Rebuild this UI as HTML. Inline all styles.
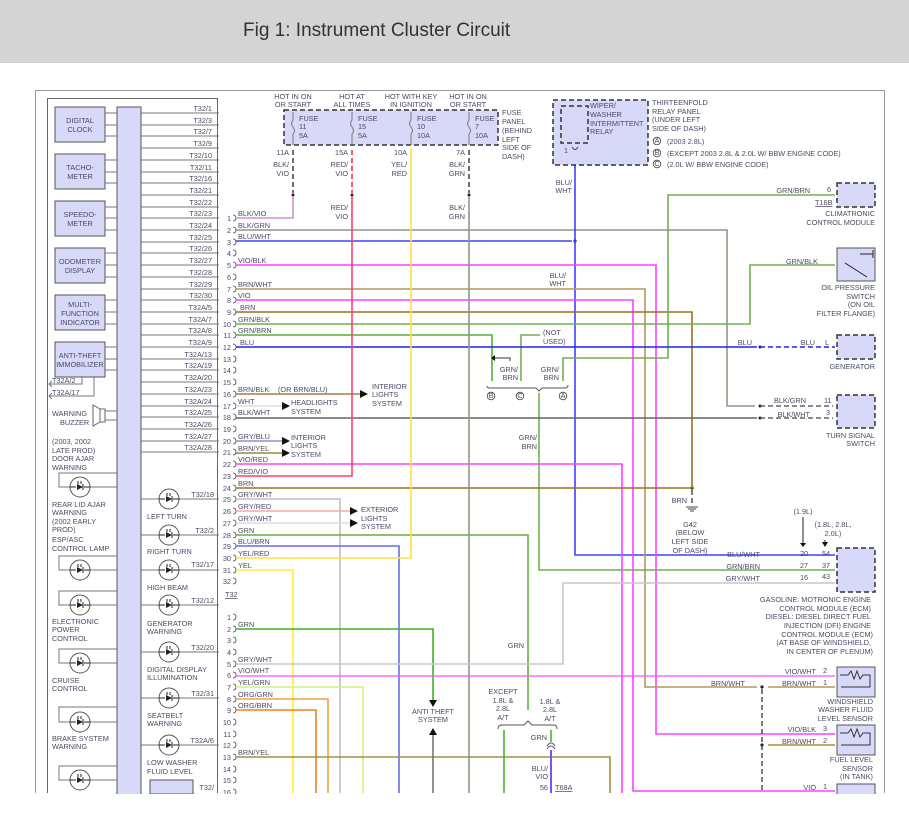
<!DOCTYPE html>
<html><head><meta charset="utf-8"><style>
html,body{margin:0;padding:0;background:#fff;width:909px;height:818px;overflow:hidden}
svg{display:block}
text{font-family:"Liberation Sans",sans-serif;font-size:7.3px;fill:#4a4a66}
.r{text-anchor:end}.m{text-anchor:middle}
.w{fill:none;stroke-width:1.6}
.g{stroke:#777;stroke-width:1;fill:none}
.box{fill:#d8d8f8;stroke:#555;stroke-width:1}
.dbox{fill:#d8d8f8;stroke:#333;stroke-width:1.5;stroke-dasharray:5 3}
</style></head><body>
<svg width="909" height="818" viewBox="0 0 909 818" xmlns="http://www.w3.org/2000/svg">
<defs>
<g id="lamp"><circle r="10" fill="#fff" stroke="#555"/><path d="M-3 -3L3 0L-3 3Z" fill="#222"/><path d="M3 -3V3M-2 -6V-3M1 -6V-3M-10 0H-4M4 0H10" stroke="#222" fill="none"/></g>
<path id="cb" d="M0 -3Q3 -3 3 0Q3 3 0 3" fill="none" stroke="#444" stroke-width=".8"/>
</defs>
<rect x="0" y="0" width="909" height="63" fill="#d4d4d4"/>
<text x="243" y="36" style="font-size:19px;fill:#333">Fig 1: Instrument Cluster Circuit</text>
<path d="M35.5 793 V90.5 H884.5 V793" fill="none" stroke="#999" stroke-width="1"/>
<path d="M47.5 793 V98.5 H217.5 V793" fill="none" stroke="#666" stroke-width="1"/>
<rect x="117" y="107" width="24" height="690" class="box"/>
<rect x="55" y="107" width="50" height="35" class="box"/><text x="80" y="123" class="m">DIGITAL</text><text x="80" y="132" class="m">CLOCK</text>
<rect x="55" y="154" width="50" height="35" class="box"/><text x="80" y="170" class="m">TACHO-</text><text x="80" y="179" class="m">METER</text>
<rect x="55" y="201" width="50" height="35" class="box"/><text x="80" y="217" class="m">SPEEDO-</text><text x="80" y="226" class="m">METER</text>
<rect x="55" y="248" width="50" height="35" class="box"/><text x="80" y="264" class="m">ODOMETER</text><text x="80" y="273" class="m">DISPLAY</text>
<rect x="55" y="295" width="50" height="35" class="box"/><text x="80" y="307" class="m">MULTI-</text><text x="80" y="316" class="m">FUNCTION</text><text x="80" y="325" class="m">INDICATOR</text>
<rect x="55" y="342" width="50" height="35" class="box"/><text x="80" y="358" class="m">ANTI-THEFT</text><text x="80" y="367" class="m">IMMOBILIZER</text>
<path class="g" d="M105 113H117M105 125H117M105 136H117M105 160H117M105 172H117M105 183H117M105 207H117M105 218H117M105 230H117M105 253H117M105 265H117M105 277H117M105 300H117M105 312H117M105 324H117M105 347H117M105 359H117M105 370H117"/>
<path class="g" d="M82 377V384H49M52 381L49 384L52 387M94 377V396H49M52 393L49 396L52 399"/>
<text x="52" y="383">T32A/2</text><text x="52" y="395">T32A/17</text>
<text x="52" y="416">WARNING</text><text x="60" y="425">BUZZER</text>
<path d="M100 409H105V422H100ZM100 409L93 405V426L100 422" fill="#fff" stroke="#666"/>
<path class="g" d="M105 411H117M105 420H117"/>
<g class="g">
<path d="M141 113H219M141 125H219M141 136H219M141 148H219M141 160H219M141 172H219M141 183H219M141 195H219M141 207H219M141 218H219M141 230H219M141 242H219M141 253H219M141 265H219M141 277H219M141 289H219M141 300H219M141 312H219M141 324H219M141 335H219M141 347H219M141 359H219M141 370H219M141 382H219M141 394H219M141 406H219M141 417H219M141 429H219M141 441H219M141 452H219"/>
</g>
<g class="r">
<text x="212" y="111">T32/1</text><text x="212" y="123">T32/3</text><text x="212" y="134">T32/7</text><text x="212" y="146">T32/9</text><text x="212" y="158">T32/10</text><text x="212" y="170">T32/11</text><text x="212" y="181">T32/16</text><text x="212" y="193">T32/21</text><text x="212" y="205">T32/22</text><text x="212" y="216">T32/23</text><text x="212" y="228">T32/24</text><text x="212" y="240">T32/25</text><text x="212" y="251">T32/26</text><text x="212" y="263">T32/27</text><text x="212" y="275">T32/28</text><text x="212" y="287">T32/29</text><text x="212" y="298">T32/30</text><text x="212" y="310">T32A/5</text><text x="212" y="322">T32A/7</text><text x="212" y="333">T32A/8</text><text x="212" y="345">T32A/9</text><text x="212" y="357">T32A/13</text><text x="212" y="368">T32A/19</text><text x="212" y="380">T32A/20</text><text x="212" y="392">T32A/23</text><text x="212" y="404">T32A/24</text><text x="212" y="415">T32A/25</text><text x="212" y="427">T32A/26</text><text x="212" y="439">T32A/27</text><text x="212" y="450">T32A/28</text>
</g>
<g class="g">
<path d="M117 473H59V487H117M117 556H59V570H117M117 591H59V605H117M117 649H59V663H117M117 707H59V722H117M117 766H59V780H117"/>
<path d="M141 499H219M141 535H219M141 570H219M141 605H219M141 652H219M141 698H219M141 745H219"/>
</g>
<use href="#lamp" x="80" y="487"/><use href="#lamp" x="80" y="570"/><use href="#lamp" x="80" y="605"/><use href="#lamp" x="80" y="663"/><use href="#lamp" x="80" y="722"/><use href="#lamp" x="80" y="780"/>
<use href="#lamp" x="169" y="499"/><use href="#lamp" x="169" y="535"/><use href="#lamp" x="169" y="570"/><use href="#lamp" x="169" y="605"/><use href="#lamp" x="169" y="652"/><use href="#lamp" x="169" y="698"/><use href="#lamp" x="169" y="745"/>
<text x="52" y="444">(2003, 2002</text><text x="52" y="453">LATE PROD)</text><text x="52" y="461">DOOR AJAR</text><text x="52" y="470">WARNING</text>
<text x="52" y="507">REAR LID AJAR</text><text x="52" y="515">WARNING</text><text x="52" y="524">(2002 EARLY</text><text x="52" y="532">PROD)</text>
<text x="52" y="542">ESP/ASC</text><text x="52" y="551">CONTROL LAMP</text>
<text x="52" y="624">ELECTRONIC</text><text x="52" y="632">POWER</text><text x="52" y="641">CONTROL</text>
<text x="52" y="683">CRUISE</text><text x="52" y="691">CONTROL</text>
<text x="52" y="741">BRAKE SYSTEM</text><text x="52" y="749">WARNING</text>
<text x="147" y="519">LEFT TURN</text><text x="147" y="554">RIGHT TURN</text><text x="147" y="590">HIGH BEAM</text>
<text x="147" y="626">GENERATOR</text><text x="147" y="634">WARNING</text>
<text x="147" y="672">DIGITAL DISPLAY</text><text x="147" y="680">ILLUMINATION</text>
<text x="147" y="718">SEATBELT</text><text x="147" y="726">WARNING</text>
<text x="147" y="765">LOW WASHER</text><text x="147" y="774">FLUID LEVEL</text>
<g class="r"><text x="214" y="497">T32/18</text><text x="214" y="533">T32/2</text><text x="214" y="567">T32/17</text><text x="214" y="603">T32/12</text><text x="214" y="650">T32/20</text><text x="214" y="696">T32/31</text><text x="214" y="743">T32A/6</text><text x="214" y="790">T32/</text></g>
<rect x="150" y="780" width="43" height="14" class="box"/>
<g class="r" style="font-size:7.5px">
<text x="231" y="221">1</text><text x="231" y="233">2</text><text x="231" y="245">3</text><text x="231" y="256">4</text><text x="231" y="268">5</text><text x="231" y="280">6</text><text x="231" y="292">7</text><text x="231" y="303">8</text><text x="231" y="315">9</text><text x="231" y="327">10</text><text x="231" y="338">11</text><text x="231" y="350">12</text><text x="231" y="362">13</text><text x="231" y="373">14</text><text x="231" y="385">15</text><text x="231" y="397">16</text><text x="231" y="409">17</text><text x="231" y="420">18</text><text x="231" y="432">19</text><text x="231" y="444">20</text><text x="231" y="455">21</text><text x="231" y="467">22</text><text x="231" y="479">23</text><text x="231" y="491">24</text><text x="231" y="502">25</text><text x="231" y="514">26</text><text x="231" y="526">27</text><text x="231" y="538">28</text><text x="231" y="549">29</text><text x="231" y="561">30</text><text x="231" y="573">31</text><text x="231" y="584">32</text>
<text x="231" y="620">1</text><text x="231" y="632">2</text><text x="231" y="643">3</text><text x="231" y="655">4</text><text x="231" y="667">5</text><text x="231" y="678">6</text><text x="231" y="690">7</text><text x="231" y="702">8</text><text x="231" y="713">9</text><text x="231" y="725">10</text><text x="231" y="737">11</text><text x="231" y="748">12</text><text x="231" y="760">13</text><text x="231" y="772">14</text><text x="231" y="783">15</text><text x="231" y="795">16</text>
</g>
<g>
<use href="#cb" x="233" y="218"/><use href="#cb" x="233" y="230"/><use href="#cb" x="233" y="242"/><use href="#cb" x="233" y="253"/><use href="#cb" x="233" y="265"/><use href="#cb" x="233" y="277"/><use href="#cb" x="233" y="289"/><use href="#cb" x="233" y="300"/><use href="#cb" x="233" y="312"/><use href="#cb" x="233" y="324"/><use href="#cb" x="233" y="335"/><use href="#cb" x="233" y="347"/><use href="#cb" x="233" y="359"/><use href="#cb" x="233" y="370"/><use href="#cb" x="233" y="382"/><use href="#cb" x="233" y="394"/><use href="#cb" x="233" y="406"/><use href="#cb" x="233" y="417"/><use href="#cb" x="233" y="429"/><use href="#cb" x="233" y="441"/><use href="#cb" x="233" y="452"/><use href="#cb" x="233" y="464"/><use href="#cb" x="233" y="476"/><use href="#cb" x="233" y="488"/><use href="#cb" x="233" y="499"/><use href="#cb" x="233" y="511"/><use href="#cb" x="233" y="523"/><use href="#cb" x="233" y="535"/><use href="#cb" x="233" y="546"/><use href="#cb" x="233" y="558"/><use href="#cb" x="233" y="570"/><use href="#cb" x="233" y="581"/>
<use href="#cb" x="233" y="617"/><use href="#cb" x="233" y="629"/><use href="#cb" x="233" y="640"/><use href="#cb" x="233" y="652"/><use href="#cb" x="233" y="664"/><use href="#cb" x="233" y="675"/><use href="#cb" x="233" y="687"/><use href="#cb" x="233" y="699"/><use href="#cb" x="233" y="710"/><use href="#cb" x="233" y="722"/><use href="#cb" x="233" y="734"/><use href="#cb" x="233" y="745"/><use href="#cb" x="233" y="757"/><use href="#cb" x="233" y="769"/><use href="#cb" x="233" y="780"/><use href="#cb" x="233" y="792"/>
</g>
<text x="225" y="597" style="text-decoration:underline">T32</text>
<rect x="284" y="110" width="214" height="35" fill="#d8d8f8" stroke="#333" stroke-width="1.5" stroke-dasharray="5 3"/>
<g class="m"><text x="293" y="99">HOT IN ON</text><text x="293" y="107">OR START</text><text x="352" y="99">HOT AT</text><text x="352" y="107">ALL TIMES</text><text x="411" y="99">HOT WITH KEY</text><text x="411" y="107">IN IGNITION</text><text x="468" y="99">HOT IN ON</text><text x="468" y="107">OR START</text></g>
<g class="g" stroke="#444"><path d="M293 112V120Q290 124 293 127Q296 131 293 134V145M352 112V120Q349 124 352 127Q355 131 352 134V145M411 112V120Q408 124 411 127Q414 131 411 134V145M469 112V120Q466 124 469 127Q472 131 469 134V145"/></g>
<text x="299" y="121">FUSE</text><text x="299" y="129">11</text><text x="299" y="138">5A</text>
<text x="358" y="121">FUSE</text><text x="358" y="129">15</text><text x="358" y="138">5A</text>
<text x="417" y="121">FUSE</text><text x="417" y="129">10</text><text x="417" y="138">10A</text>
<text x="475" y="121">FUSE</text><text x="475" y="129">7</text><text x="475" y="138">10A</text>
<text x="502" y="115">FUSE</text><text x="502" y="124">PANEL</text><text x="502" y="133">(BEHIND</text><text x="502" y="142">LEFT</text><text x="502" y="150">SIDE OF</text><text x="502" y="159">DASH)</text>
<g class="r"><text x="289" y="155">11A</text><text x="289" y="167">BLK/</text><text x="289" y="176">VIO</text>
<text x="348" y="155">15A</text><text x="348" y="167">RED/</text><text x="348" y="176">VIO</text>
<text x="407" y="155">10A</text><text x="407" y="167">YEL/</text><text x="407" y="176">RED</text>
<text x="465" y="155">7A</text><text x="465" y="167">BLK/</text><text x="465" y="176">GRN</text>
<text x="348" y="210">RED/</text><text x="348" y="219">VIO</text><text x="465" y="210">BLK/</text><text x="465" y="219">GRN</text></g>
<path d="M293 150V193M469 150V193" stroke="#333" stroke-width="1.4" stroke-dasharray="5 3"/>
<path d="M352 150V193" stroke="#ff3040" stroke-width="1.6" stroke-dasharray="5 3"/>
<g fill="#222"><circle cx="293" cy="195" r="1.5"/><circle cx="352" cy="195" r="1.5"/><circle cx="469" cy="195" r="1.5"/><circle cx="575" cy="241" r="1.6"/><circle cx="692" cy="488" r="1.6"/><circle cx="760" cy="347" r="1.5"/><circle cx="760" cy="406" r="1.5"/><circle cx="760" cy="418" r="1.5"/><circle cx="762" cy="687" r="1.6"/><circle cx="762" cy="745" r="1.6"/></g>
<g class="w">
<path d="M236 218H293V196" stroke="#d090d0"/>
<path d="M236 230H727V406H755" stroke="#8a9a80"/>
<path d="M236 241H572" stroke="#4040ff"/>
<path d="M575 148V555H835" stroke="#4040ff"/>
<path d="M236 265H656V734H835" stroke="#ff40ff"/>
<path d="M236 289H645V687H757M768 687H835" stroke="#b09a60"/>
<path d="M236 300H633V791H835" stroke="#ff40ff"/>
<path d="M236 312H692V488" stroke="#9a7020"/>
<path d="M236 324H750V265H835" stroke="#70b050"/>
<path d="M236 335H492V381" stroke="#50b030"/>
<path d="M540 335H521V381" stroke="#70b050"/>
<path d="M563 381V358H668V195H835" stroke="#70b050"/>
<path d="M539 393V570H835" stroke="#70b050"/>
<path d="M236 347H757" stroke="#2020ff"/>
<path d="M236 394H360" stroke="#a08040"/>
<path d="M236 406H282" stroke="#ddd"/>
<path d="M236 418H757" stroke="#666"/>
<path d="M236 441H282" stroke="#9090d0"/>
<path d="M236 453H282" stroke="#a08a30"/>
<path d="M236 464H622V793" stroke="#ff40ff"/>
<path d="M236 476H352V196" stroke="#ff4070"/>
<path d="M236 488H692" stroke="#9a7020"/>
<path d="M236 499H340V793" stroke="#c0c0c0"/>
<path d="M236 511H350" stroke="#f4a8a8"/>
<path d="M236 523H350" stroke="#ddd"/>
<path d="M236 535H528V710" stroke="#60b040"/>
<path d="M236 546H399V793" stroke="#6a6aee"/>
<path d="M236 558H411V148" stroke="#ffe040"/>
<path d="M236 570H293V793" stroke="#ffee33"/>
<path d="M469 196V793" stroke="#8a9a80"/>
<path d="M236 629H433V700" stroke="#40b020"/>
<path d="M236 664H563V583H835" stroke="#c8c8c8"/>
<path d="M236 676H835" stroke="#ff50ff" stroke-width="1.2"/>
<path d="M236 687H363V793" stroke="#d0f080"/>
<path d="M236 699H328V793" stroke="#f0a040"/>
<path d="M236 710H316V793" stroke="#f08020"/>
<path d="M236 757H610V793" stroke="#a09040"/>
<path d="M433 735V793" stroke="#777"/>
<path d="M504 730V793M551 730V742" stroke="#50b030"/>
<path d="M551 750V793" stroke="#7a50ff" stroke-width="2"/>
<path d="M768 745H835" stroke="#a09040"/>
</g>
<path d="M760 347H835" stroke="#2020ff" stroke-width="1.6" stroke-dasharray="5 3"/>
<path d="M760 406H833M760 418H833" stroke="#444" stroke-width="1.2" stroke-dasharray="5 3"/>
<path d="M692 490V505M762 689V793" stroke="#444" stroke-width="1.4" stroke-dasharray="5 3"/>
<path d="M686 507H698M688 509H696M690 511H694" stroke="#444"/>
<g fill="#111">
<path d="M360 390L368 394L360 398Z M282 402L290 406L282 410Z M282 437L290 441L282 445Z M282 449L290 453L282 457Z M350 507L358 511L350 515Z M350 519L358 523L350 527Z M429 700L437 700L433 707Z M429 735L437 735L433 728Z"/>
</g>
<text x="238" y="216">BLK/VIO</text><text x="238" y="228">BLK/GRN</text><text x="238" y="239">BLU/WHT</text><text x="238" y="263">VIO/BLK</text><text x="238" y="287">BRN/WHT</text><text x="238" y="298">VIO</text><text x="240" y="310">BRN</text><text x="238" y="322">GRN/BLK</text><text x="238" y="333">GRN/BRN</text><text x="240" y="345">BLU</text>
<text x="238" y="392">BRN/BLK</text><text x="278" y="392">(OR BRN/BLU)</text><text x="238" y="404">WHT</text><text x="238" y="415">BLK/WHT</text><text x="238" y="439">GRY/BLU</text><text x="238" y="451">BRN/YEL</text><text x="238" y="462">VIO/RED</text><text x="238" y="474">RED/VIO</text><text x="238" y="486">BRN</text><text x="238" y="497">GRY/WHT</text><text x="238" y="509">GRY/RED</text><text x="238" y="521">GRY/WHT</text><text x="238" y="533">GRN</text><text x="238" y="544">BLU/BRN</text><text x="238" y="556">YEL/RED</text><text x="238" y="568">YEL</text>
<text x="238" y="627">GRN</text><text x="238" y="662">GRY/WHT</text><text x="238" y="673">VIO/WHT</text><text x="238" y="685">YEL/GRN</text><text x="238" y="697">ORG/GRN</text><text x="238" y="708">ORG/BRN</text><text x="238" y="755">BRN/YEL</text>
<text x="372" y="389">INTERIOR</text><text x="372" y="397">LIGHTS</text><text x="372" y="406">SYSTEM</text>
<text x="291" y="405">HEADLIGHTS</text><text x="291" y="414">SYSTEM</text>
<text x="291" y="440">INTERIOR</text><text x="291" y="448">LIGHTS</text><text x="291" y="457">SYSTEM</text>
<text x="361" y="512">EXTERIOR</text><text x="361" y="521">LIGHTS</text><text x="361" y="529">SYSTEM</text>
<text x="433" y="714" class="m">ANTI THEFT</text><text x="433" y="722" class="m">SYSTEM</text>
<text x="503" y="694" class="m">EXCEPT</text><text x="503" y="703" class="m">1.8L &amp;</text><text x="503" y="711" class="m">2.8L</text><text x="503" y="720" class="m">A/T</text>
<text x="550" y="704" class="m">1.8L &amp;</text><text x="550" y="712" class="m">2.8L</text><text x="550" y="721" class="m">A/T</text>
<path d="M498 729Q498 725 502 725H524L528 721L532 725H554Q557 725 557 729" fill="none" stroke="#555"/>
<path d="M547 746Q551 740 555 746M547 749Q551 743 555 749" fill="none" stroke="#555"/>
<text x="547" y="740" class="r">GRN</text><text x="548" y="771" class="r">BLU/</text><text x="548" y="779" class="r">VIO</text><text x="548" y="790" class="r">56</text><text x="555" y="790" style="text-decoration:underline">T68A</text>
<text x="524" y="648" class="r">GRN</text>
<rect x="553" y="100" width="95" height="65" class="dbox"/>
<rect x="561" y="106" width="27" height="37" class="dbox"/>
<text x="590" y="108">WIPER/</text><text x="590" y="117">WASHER</text><text x="590" y="126">INTERMITTENT</text><text x="590" y="134">RELAY</text>
<text x="564" y="153">1</text><path d="M572 147Q575 152 578 147" fill="none" stroke="#444"/>
<text x="652" y="105">THIRTEENFOLD</text><text x="652" y="114">RELAY PANEL</text><text x="652" y="122">(UNDER LEFT</text><text x="652" y="131">SIDE OF DASH)</text>
<g fill="none" stroke="#444" stroke-width=".8"><circle cx="657" cy="141" r="3.8"/><circle cx="657" cy="153" r="3.8"/><circle cx="657" cy="164" r="3.8"/><circle cx="491" cy="396" r="3.8"/><circle cx="520" cy="396" r="3.8"/><circle cx="563" cy="396" r="3.8"/></g>
<g style="font-size:5.5px" class="m"><text x="657" y="143">A</text><text x="657" y="155">B</text><text x="657" y="166">C</text><text x="491" y="398">B</text><text x="520" y="398">C</text><text x="563" y="398">A</text></g>
<text x="667" y="144">(2003 2.8L)</text><text x="667" y="156">(EXCEPT 2003 2.8L &amp; 2.0L W/ BBW ENGINE CODE)</text><text x="667" y="167">(2.0L W/ BBW ENGINE CODE)</text>
<text x="572" y="185" class="r">BLU/</text><text x="572" y="193" class="r">WHT</text><text x="566" y="278" class="r">BLU/</text><text x="566" y="286" class="r">WHT</text>
<text x="543" y="335">(NOT</text><text x="543" y="344">USED)</text>
<path d="M510 361V358H495" fill="none" stroke="#333"/><path d="M495 355L491 358L495 361Z" fill="#111"/>
<text x="518" y="372" class="r">GRN/</text><text x="518" y="380" class="r">BRN</text><text x="559" y="372" class="r">GRN/</text><text x="559" y="380" class="r">BRN</text>
<path d="M487 386Q487 388 490 388H536L539 391L542 388H565Q568 388 568 385" fill="none" stroke="#555"/>
<text x="537" y="440" class="r">GRN/</text><text x="537" y="449" class="r">BRN</text>
<rect x="837" y="183" width="38" height="24" class="dbox"/>
<text x="810" y="193" class="r">GRN/BRN</text><text x="827" y="192">6</text><text x="815" y="205" style="text-decoration:underline">T16B</text>
<text x="875" y="216" class="r">CLIMATRONIC</text><text x="875" y="225" class="r">CONTROL MODULE</text>
<rect x="837" y="248" width="38" height="33" class="box"/>
<path d="M845 263L867 277M860 254H873M873 250V258" stroke="#222" fill="none"/>
<text x="818" y="264" class="r">GRN/BLK</text>
<text x="875" y="290" class="r">OIL PRESSURE</text><text x="875" y="299" class="r">SWITCH</text><text x="875" y="307" class="r">(ON OIL</text><text x="875" y="316" class="r">FILTER FLANGE)</text>
<rect x="837" y="335" width="38" height="24" class="dbox"/>
<text x="752" y="345" class="r">BLU</text><text x="815" y="345" class="r">BLU</text><text x="825" y="345">L</text><text x="875" y="369" class="r">GENERATOR</text>
<rect x="837" y="395" width="38" height="33" class="dbox"/>
<text x="806" y="403" class="r">BLK/GRN</text><text x="824" y="403">11</text><text x="810" y="417" class="r">BLK/WHT</text><text x="826" y="415">3</text>
<text x="875" y="438" class="r">TURN SIGNAL</text><text x="875" y="446" class="r">SWITCH</text>
<text x="687" y="503" class="r">BRN</text>
<g class="m"><text x="690" y="527">G42</text><text x="690" y="535">(BELOW</text><text x="690" y="544">LEFT SIDE</text><text x="690" y="553">OF DASH)</text></g>
<rect x="837" y="548" width="38" height="44" class="dbox"/>
<text x="803" y="514" class="m">(1.9L)</text><text x="833" y="527" class="m">(1.8L, 2.8L,</text><text x="833" y="536" class="m">2.0L)</text>
<path d="M803 517V545M825 540V545" stroke="#222"/><path d="M800 543H806L803 547ZM822 542H828L825 547Z" fill="#111"/>
<text x="760" y="557" class="r">BLU/WHT</text><text x="800" y="556">20</text><text x="822" y="556">54</text>
<text x="760" y="569" class="r">GRN/BRN</text><text x="800" y="568">27</text><text x="822" y="568">37</text>
<text x="760" y="581" class="r">GRY/WHT</text><text x="800" y="580">16</text><text x="822" y="579">43</text>
<g class="r"><text x="871" y="602">GASOLINE: MOTRONIC ENGINE</text><text x="871" y="611">CONTROL MODULE (ECM)</text><text x="871" y="619">DIESEL: DIESEL DIRECT FUEL</text><text x="871" y="628">INJECTION (DFI) ENGINE</text><text x="873" y="637">CONTROL MODULE (ECM)</text><text x="871" y="645">(AT BASE OF WINDSHIELD,</text><text x="873" y="654">IN CENTER OF PLENUM)</text></g>
<rect x="837" y="667" width="38" height="30" class="box"/>
<path d="M840 675H848L851 671L854 679L857 671L860 679L863 675H870V687H841" fill="none" stroke="#333"/>
<text x="816" y="674" class="r">VIO/WHT</text><text x="823" y="673">2</text><text x="816" y="686" class="r">BRN/WHT</text><text x="823" y="685">1</text><text x="745" y="686" class="r">BRN/WHT</text>
<g class="r"><text x="873" y="704">WINDSHIELD</text><text x="873" y="712">WASHER FLUID</text><text x="873" y="721">LEVEL SENSOR</text></g>
<rect x="837" y="725" width="38" height="30" class="box"/>
<path d="M840 733H848L851 729L854 737L857 729L860 737L863 733H870V745H841" fill="none" stroke="#333"/>
<text x="816" y="732" class="r">VIO/BLK</text><text x="823" y="731">3</text><text x="816" y="744" class="r">BRN/WHT</text><text x="823" y="743">2</text>
<g class="r"><text x="873" y="762">FUEL LEVEL</text><text x="873" y="771">SENSOR</text><text x="873" y="779">(IN TANK)</text></g>
<rect x="837" y="784" width="38" height="12" class="box"/>
<text x="816" y="790" class="r">VIO</text><text x="823" y="789">1</text>
<rect x="0" y="794" width="909" height="24" fill="#fff"/>
</svg>
</body></html>
